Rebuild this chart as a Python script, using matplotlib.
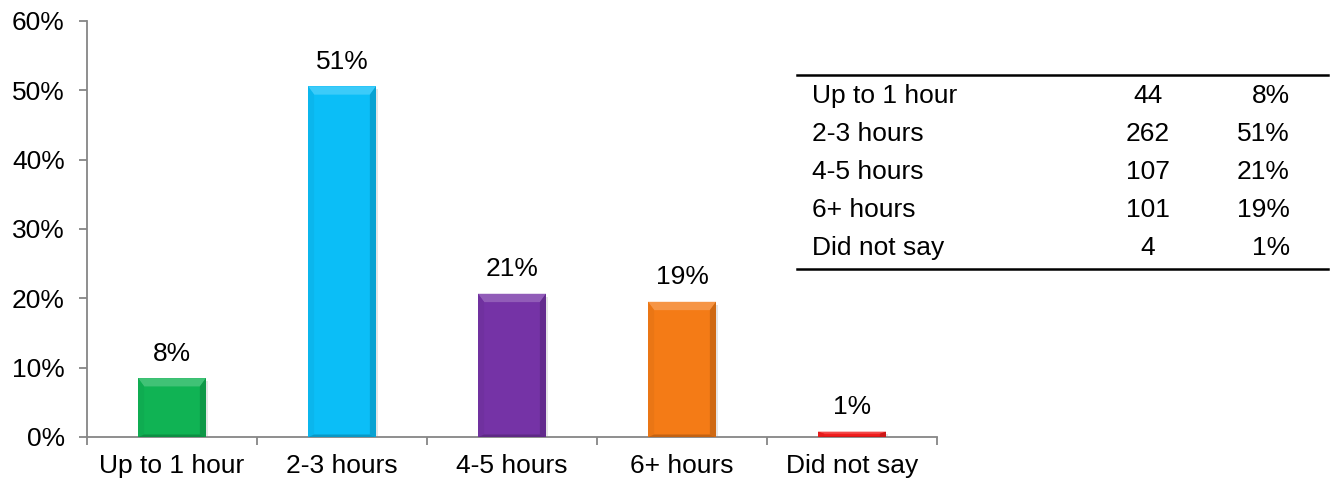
import matplotlib.pyplot as plt
import matplotlib.patches as mpatches
import numpy as np

plt.rcParams['font.family'] = ['Liberation Sans', 'DejaVu Sans']

categories = ['Up to 1 hour', '2-3 hours', '4-5 hours', '6+ hours', 'Did not say']
counts = [44, 262, 107, 101, 4]
colors = ['#10B354', '#0BBEF7', '#7533A6', '#F47B16', '#F01C1C']

total = sum(counts)
shares = [c / total for c in counts]
pct_labels = ['{:.0f}%'.format(s * 100) for s in shares]

FS = 19

fig = plt.figure(figsize=(13.35, 4.83), dpi=100)
ax = fig.add_axes([87 / 1335, 1 - 437 / 483, 850 / 1335, 416 / 483])

x = np.arange(len(categories))
bars = ax.bar(x, shares, width=0.4, color=colors, zorder=3)


def shade(c, f):
    rgb = np.array(plt.matplotlib.colors.to_rgb(c))
    if f < 0:
        return tuple(rgb * (1 + f))
    return tuple(rgb + (1 - rgb) * f)


# bevel look: light top edge, darker sides and bottom
for b, c in zip(bars, colors):
    x0, y0 = b.get_x(), b.get_y()
    w, h = b.get_width(), b.get_height()
    bx = w * 0.09
    by = min(0.012, h * 0.4)
    x1, y1 = x0 + w, y0 + h
    top = [(x0, y1), (x1, y1), (x1 - bx, y1 - by), (x0 + bx, y1 - by)]
    left = [(x0, y0), (x0, y1), (x0 + bx, y1 - by), (x0 + bx, y0 + by * 0.3)]
    right = [(x1, y0), (x1, y1), (x1 - bx, y1 - by), (x1 - bx, y0 + by * 0.3)]
    bottom = [(x0, y0), (x1, y0), (x1 - bx, y0 + by * 0.3), (x0 + bx, y0 + by * 0.3)]
    for poly, f in [(top, 0.2), (left, -0.04), (right, -0.15), (bottom, -0.2)]:
        ax.add_patch(mpatches.Polygon(poly, closed=True, color=shade(c, f),
                                      lw=0, zorder=4))
    ax.add_patch(mpatches.Rectangle((x0 + 0.01, y0 - 0.004), w, h,
                                    color='#000000', alpha=0.1, lw=0, zorder=2))

for xi, s, lab in zip(x, shares, pct_labels):
    ax.annotate(lab, (xi, s), xytext=(0, 9), textcoords='offset points',
                ha='center', va='bottom', fontsize=FS, color='#000000')

ax.set_xlim(-0.5, len(categories) - 0.5)
ax.set_ylim(0, 0.6)
ax.set_yticks(np.arange(0, 0.61, 0.1))
ax.set_yticklabels(['{:.0f}%'.format(v * 100) for v in np.arange(0, 0.61, 0.1)])
ax.set_xticks(x)
ax.set_xticklabels(categories)
ax.set_xticks(np.arange(-0.5, len(categories), 1), minor=True)
ax.tick_params(axis='x', which='major', length=0, pad=12, labelsize=FS)
ax.tick_params(axis='x', which='minor', length=6, color='#868686', width=1.3)
ax.tick_params(axis='y', length=6, color='#868686', width=1.3, pad=10, labelsize=FS)

for side in ['top', 'right']:
    ax.spines[side].set_visible(False)
for side in ['left', 'bottom']:
    ax.spines[side].set_color('#868686')
    ax.spines[side].set_linewidth(1.3)

# summary table on the right
W, H = 1335, 483
fig.add_artist(plt.Line2D([797 / W, 1328 / W], [1 - 75 / H] * 2, color='black', lw=1.8))
fig.add_artist(plt.Line2D([797 / W, 1328 / W], [1 - 269 / H] * 2, color='black', lw=1.8))
row_y = [96, 134, 172, 210, 248]
for ry, cat, n, lab in zip(row_y, categories, counts, pct_labels):
    fy = 1 - ry / H
    fig.text(812 / W, fy, cat, ha='left', va='center', fontsize=FS)
    fig.text(1148 / W, fy, str(n), ha='center', va='center', fontsize=FS)
    fig.text(1290 / W, fy, lab, ha='right', va='center', fontsize=FS)

fig.savefig('out.png', dpi=100)
